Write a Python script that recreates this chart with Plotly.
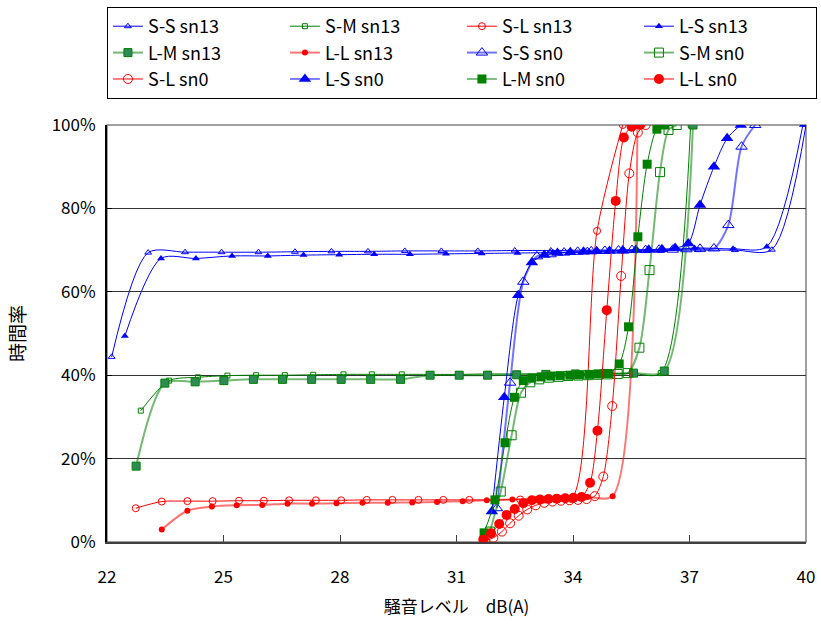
import plotly.graph_objects as go

# ---- data (dB(A), time rate %) ----
ss13_x = [22.12, 23.06, 24.01, 24.95, 25.9, 26.84, 27.78, 28.72, 29.67, 30.61, 31.55, 32.5, 33.43, 34.37, 35.31, 36.26, 37.22, 38.17, 39.12, 40.0]
ss13_y = [44.4, 69.4, 69.5, 69.5, 69.5, 69.6, 69.7, 69.7, 69.8, 69.8, 69.8, 69.9, 69.9, 70.0, 70.0, 70.0, 70.0, 70.0, 70.1, 100.0]

sm13_x = [22.87, 23.6, 24.34, 25.1, 25.84, 26.58, 27.31, 28.09, 28.82, 29.59, 30.32, 31.07, 31.81, 32.56, 33.3, 34.05, 34.79, 35.54, 36.26, 37.03]
sm13_y = [31.5, 38.7, 39.5, 39.9, 40.0, 40.0, 40.1, 40.2, 40.2, 40.2, 40.2, 40.2, 40.3, 40.3, 40.3, 40.3, 40.4, 40.4, 40.5, 100.0]

sl13_x = [22.74, 23.41, 24.07, 24.72, 25.4, 26.04, 26.69, 27.38, 28.03, 28.69, 29.35, 30.02, 30.66, 31.33, 31.98, 32.64, 33.3, 33.96, 34.62, 35.28]
sl13_y = [8.1, 9.7, 9.8, 9.8, 9.9, 9.9, 10.0, 10.0, 10.0, 10.1, 10.1, 10.1, 10.1, 10.1, 10.1, 10.2, 10.2, 10.3, 74.6, 100.0]

ls13_x = [22.46, 23.39, 24.29, 25.22, 26.14, 27.06, 27.98, 28.88, 29.8, 30.73, 31.65, 32.57, 33.49, 34.41, 35.33, 36.25, 37.13, 38.12, 38.99, 39.92]
ls13_y = [49.4, 68.0, 68.0, 68.6, 68.6, 68.8, 68.9, 69.0, 69.0, 69.1, 69.2, 69.3, 69.4, 69.5, 69.6, 69.8, 70.5, 70.3, 70.8, 100.0]

lm13_x = [22.75, 23.49, 24.27, 25.01, 25.77, 26.52, 27.27, 28.03, 28.79, 29.56, 30.32, 31.07, 31.8, 32.55, 33.3, 34.06, 34.81, 35.56, 36.35, 37.09]
lm13_y = [18.2, 38.1, 38.4, 38.7, 39.0, 39.0, 39.0, 39.0, 39.0, 39.0, 40.0, 40.0, 40.0, 40.1, 40.2, 40.3, 40.4, 40.5, 41.0, 100.0]

ll13_x = [23.41, 24.07, 24.7, 25.34, 26.0, 26.65, 27.28, 27.91, 28.58, 29.23, 29.86, 30.5, 31.16, 31.78, 32.44, 33.08, 33.73, 34.37, 35.02, 35.66]
ll13_y = [3.0, 7.5, 8.5, 8.8, 8.9, 9.2, 9.2, 9.3, 9.4, 9.4, 9.5, 9.6, 9.8, 10.0, 10.2, 10.4, 10.6, 10.8, 11.0, 100.0]

ss0_x = [32.04, 32.38, 32.72, 33.07, 33.42, 33.77, 34.12, 34.47, 34.82, 35.17, 35.52, 35.87, 36.22, 36.57, 36.92, 37.27, 37.63, 38.0, 38.34, 38.69]
ss0_y = [8.1, 38.2, 62.4, 68.5, 69.0, 69.4, 69.6, 69.7, 69.8, 69.9, 70.0, 70.0, 70.1, 70.1, 70.2, 70.3, 70.4, 76.0, 94.8, 100.0]

sm0_x = [31.86, 32.14, 32.42, 32.66, 32.9, 33.13, 33.38, 33.63, 33.88, 34.14, 34.39, 34.64, 34.9, 35.15, 35.41, 35.71, 35.97, 36.24, 36.46, 36.67]
sm0_y = [2.5, 12.1, 25.6, 35.8, 38.3, 39.0, 39.4, 39.6, 39.8, 39.9, 40.0, 40.1, 40.2, 40.3, 40.5, 46.6, 65.2, 88.7, 98.8, 100.0]

sl0_x = [31.73, 31.95, 32.17, 32.38, 32.6, 32.82, 33.04, 33.26, 33.47, 33.69, 33.91, 34.13, 34.35, 34.56, 34.78, 35.01, 35.24, 35.45, 35.67, 35.87]
sl0_y = [0.3, 1.0, 2.5, 4.5, 6.3, 7.8, 8.8, 9.4, 9.7, 9.9, 10.0, 10.1, 10.3, 11.0, 15.7, 32.6, 63.8, 88.4, 98.2, 100.0]

ls0_x = [31.91, 32.23, 32.59, 32.94, 33.26, 33.6, 33.93, 34.27, 34.61, 34.94, 35.28, 35.62, 35.95, 36.29, 36.63, 36.97, 37.27, 37.63, 37.97, 38.32]
ls0_y = [7.3, 34.7, 59.2, 67.0, 68.8, 69.3, 69.5, 69.6, 69.7, 69.8, 69.9, 70.0, 70.1, 70.2, 70.5, 71.6, 80.8, 90.0, 96.8, 100.0]

lm0_x = [31.71, 31.99, 32.25, 32.49, 32.72, 32.94, 33.18, 33.43, 33.67, 33.92, 34.16, 34.41, 34.65, 34.9, 35.19, 35.43, 35.67, 35.91, 36.16, 36.37]
lm0_y = [2.2, 10.1, 23.8, 34.7, 38.7, 39.3, 39.6, 39.8, 39.9, 40.0, 40.1, 40.2, 40.3, 40.4, 42.7, 51.6, 73.2, 90.6, 99.0, 100.0]

ll0_x = [31.69, 31.89, 32.1, 32.29, 32.5, 32.72, 32.94, 33.15, 33.37, 33.58, 33.8, 34.01, 34.22, 34.44, 34.63, 34.87, 35.1, 35.31, 35.51, 35.73]
ll0_y = [0.6, 2.1, 4.3, 6.5, 7.9, 9.3, 10.0, 10.2, 10.3, 10.4, 10.5, 10.6, 10.8, 14.2, 26.7, 55.6, 81.8, 97.0, 99.6, 100.0]

x_ticks = [22, 25, 28, 31, 34, 37, 40]
y_ticks = [0, 20, 40, 60, 80, 100]

BLUE, GREEN, RED = "#0000FF", "#008000", "#FF0000"
BLUE_A, GREEN_A, RED_A = "rgba(0,0,255,0.55)", "rgba(0,128,0,0.55)", "rgba(255,0,0,0.55)"

series = [
    ("S-S sn13", ss13_x, ss13_y, BLUE, 1, "triangle-up-open", 6, BLUE, None),
    ("S-M sn13", sm13_x, sm13_y, GREEN, 1, "square-open", 5, GREEN, None),
    ("S-L sn13", sl13_x, sl13_y, RED, 1, "circle-open", 7, RED, None),
    ("L-S sn13", ls13_x, ls13_y, BLUE, 1, "triangle-up", 7, BLUE, None),
    ("L-M sn13", lm13_x, lm13_y, GREEN_A, 2, "square", 8, "#2E8B57", GREEN),
    ("L-L sn13", ll13_x, ll13_y, RED_A, 2, "circle", 6, RED, None),
    ("S-S sn0", ss0_x, ss0_y, BLUE_A, 2, "triangle-up-open", 10, BLUE, None),
    ("S-M sn0", sm0_x, sm0_y, GREEN_A, 2, "square-open", 9, GREEN, None),
    ("S-L sn0", sl0_x, sl0_y, RED, 1, "circle-open", 9, RED, None),
    ("L-S sn0", ls0_x, ls0_y, BLUE, 1, "triangle-up", 11, BLUE, None),
    ("L-M sn0", lm0_x, lm0_y, GREEN, 1, "square", 9, GREEN, None),
    ("L-L sn0", ll0_x, ll0_y, RED, 1, "circle", 10, RED, None),
]

fig = go.Figure()
for name, xs, ys, lc, lw, sym, ms, mc, mlc in series:
    marker = dict(symbol=sym, size=ms, color=mc)
    if sym.endswith("-open"):
        marker["line"] = dict(color=mc, width=1)
    elif mlc:
        marker["line"] = dict(color=mlc, width=1)
    else:
        marker["line"] = dict(width=0)
    fig.add_trace(go.Scatter(
        x=xs, y=ys, name=name, mode="lines+markers",
        line=dict(color=lc, width=lw, shape="spline", smoothing=0.8),
        marker=marker,
    ))

FONT = "Noto Sans CJK JP, Liberation Sans, Arial, sans-serif"

fig.update_layout(
    width=821, height=628,
    margin=dict(l=107, r=15, t=125, b=86, autoexpand=False),
    paper_bgcolor="white", plot_bgcolor="white",
    font=dict(family=FONT, size=17, color="black"),
    showlegend=True,
    legend=dict(
        orientation="h", x=-0.0001, xanchor="left", y=1.283, yanchor="top",
        bordercolor="black", borderwidth=1, bgcolor="white",
        font=dict(size=18, family=FONT),
        entrywidth=132, entrywidthmode="pixels",
        itemwidth=30, tracegroupgap=0,
    ),
    xaxis=dict(
        range=[22, 40], tickvals=x_ticks, ticktext=[str(v) for v in x_ticks],
        showgrid=False, zeroline=False,
        showline=True, linecolor="#404040", linewidth=2,
        ticks="inside", ticklen=7, tickcolor="#404040", tickwidth=1,
        tickfont=dict(size=17), ticklabelstandoff=19,
        title=dict(text="騒音レベル　dB(A)", font=dict(size=17), standoff=14),
    ),
    yaxis=dict(
        range=[0, 100], tickvals=y_ticks, ticktext=[f"{v}%" for v in y_ticks],
        showgrid=True, gridcolor="#333333", gridwidth=1,
        zeroline=False,
        showline=True, linecolor="black", linewidth=2,
        ticks="inside", ticklen=5, tickcolor="black",
        tickfont=dict(size=17), ticklabelstandoff=6,
        title=dict(text="時間率", font=dict(size=19), standoff=21),
    ),
    shapes=[dict(type="rect", xref="paper", yref="paper", x0=0, y0=0, x1=1, y1=1,
                 line=dict(color="#808080", width=1.5), layer="below")],
)

fig.write_html("out.html")
